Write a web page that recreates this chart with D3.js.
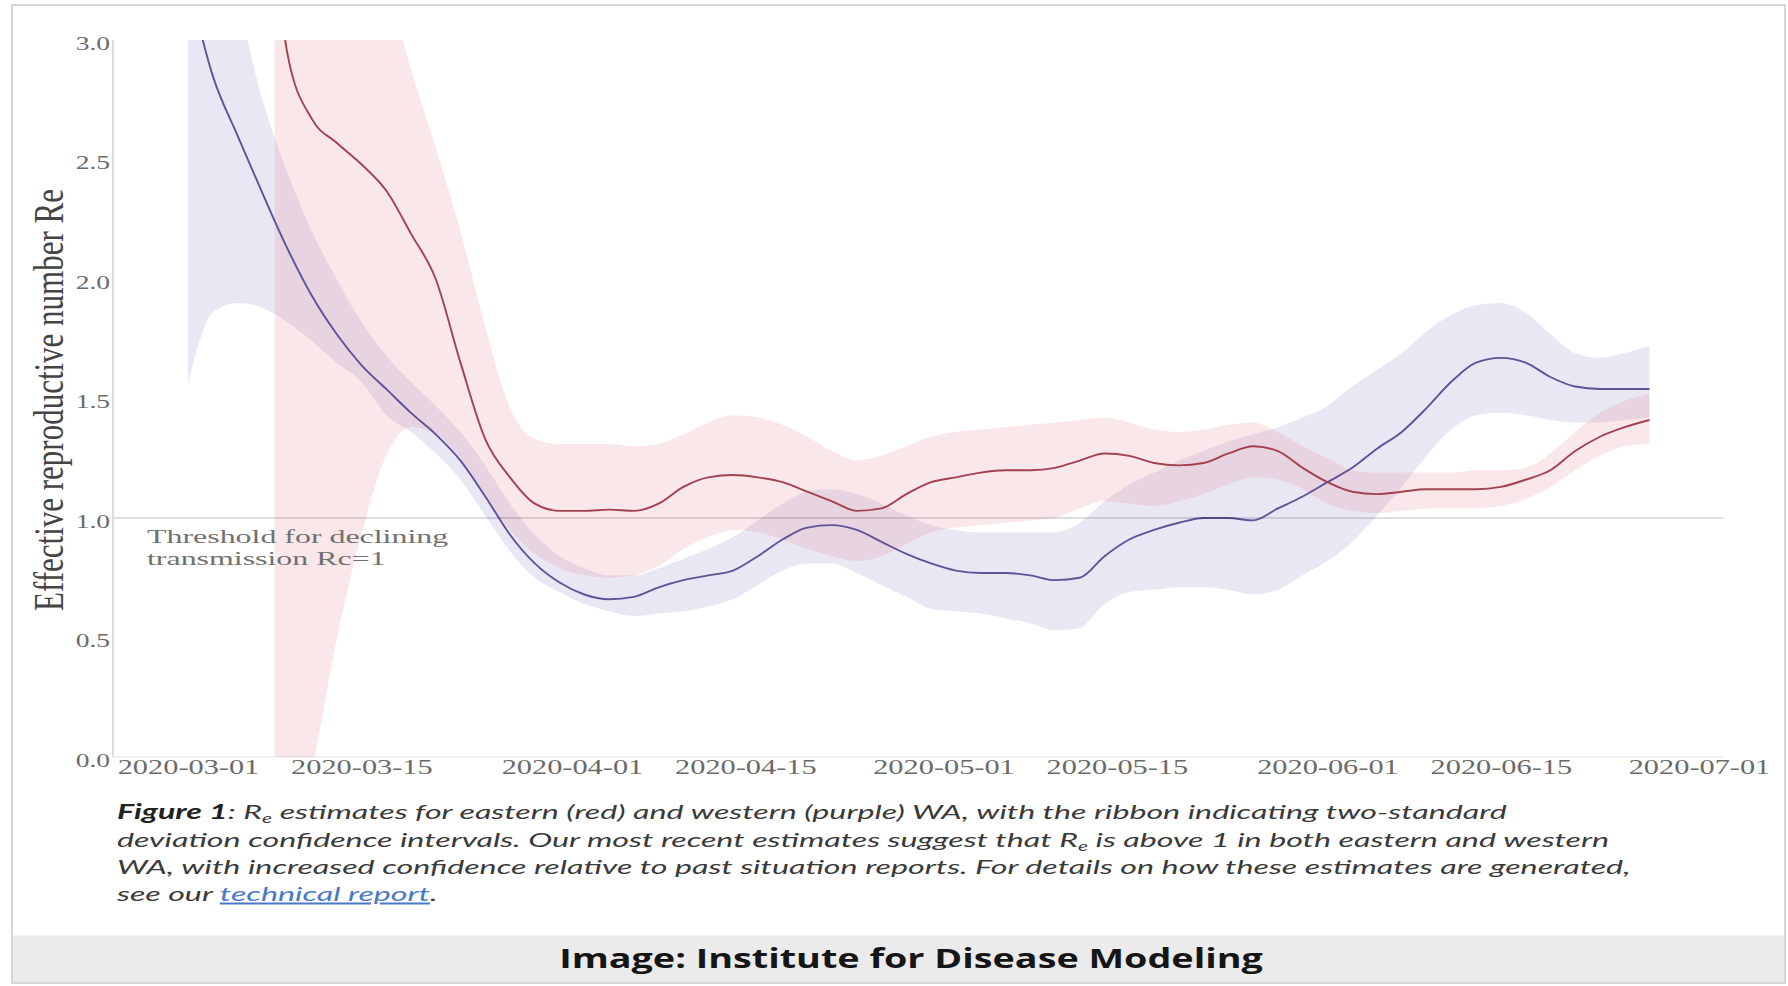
<!DOCTYPE html>
<html><head><meta charset="utf-8">
<script src="https://cdn.jsdelivr.net/npm/d3@7"></script>
<style>
html,body{margin:0;padding:0;background:#fff;}
svg{display:block;}
</style></head>
<body>
<svg id="chart" width="1788" height="986"></svg>
<script>
// ---------- data (days after 2020-03-01) ----------
const startDate = "2020-03-01";
const westDay = [0,2,4,6,8,10,12,14,16,18,20,22,24,26,28,30,32,34,36,38,40,42,44,46,48,50,52,54,56,58,60,62,64,66,68,70,72,74,76,78,80,82,84,86,88,90,92,94,96,98,100,102,104,106,108,110,112,114,116,118];
const westMid = [3.25,2.85,2.60,2.36,2.13,1.93,1.77,1.64,1.54,1.44,1.35,1.24,1.09,0.93,0.81,0.73,0.68,0.66,0.67,0.71,0.74,0.76,0.78,0.84,0.91,0.96,0.97,0.95,0.90,0.85,0.81,0.78,0.77,0.77,0.76,0.74,0.75,0.84,0.91,0.95,0.98,1.00,1.00,0.99,1.04,1.09,1.15,1.21,1.29,1.36,1.46,1.57,1.65,1.67,1.65,1.59,1.55,1.54,1.54,1.54];
const westLo  = [1.56,1.86,1.90,1.88,1.82,1.74,1.65,1.57,1.43,1.36,1.27,1.16,1.01,0.86,0.75,0.69,0.64,0.61,0.59,0.60,0.61,0.63,0.66,0.72,0.78,0.81,0.81,0.77,0.72,0.67,0.62,0.61,0.60,0.58,0.56,0.53,0.54,0.64,0.69,0.70,0.71,0.71,0.70,0.68,0.70,0.76,0.82,0.90,1.01,1.13,1.26,1.37,1.43,1.44,1.43,1.41,1.40,1.40,1.41,1.42];
const westHi  = [3.60,3.35,3.15,2.75,2.45,2.20,2.00,1.82,1.68,1.57,1.47,1.36,1.22,1.06,0.93,0.84,0.79,0.76,0.76,0.79,0.83,0.87,0.92,0.99,1.06,1.11,1.12,1.10,1.06,1.01,0.97,0.95,0.94,0.94,0.94,0.94,0.98,1.07,1.14,1.19,1.24,1.28,1.32,1.35,1.38,1.42,1.47,1.55,1.62,1.69,1.78,1.85,1.89,1.90,1.86,1.77,1.69,1.67,1.69,1.72];

const eastDay = [7,8,10,12,14,16,18,20,22,24,26,28,30,32,34,36,38,40,42,44,46,48,50,52,54,56,58,60,62,64,66,68,70,72,74,76,78,80,82,84,86,88,90,92,94,96,98,100,102,104,106,108,110,112,114,116,118];
const eastMid = [3.40,2.95,2.67,2.57,2.48,2.37,2.19,2.00,1.65,1.33,1.17,1.06,1.03,1.03,1.035,1.03,1.06,1.13,1.17,1.18,1.17,1.15,1.11,1.07,1.03,1.04,1.10,1.15,1.17,1.19,1.20,1.20,1.21,1.24,1.27,1.26,1.23,1.22,1.23,1.27,1.30,1.28,1.21,1.15,1.11,1.10,1.11,1.12,1.12,1.12,1.13,1.16,1.20,1.28,1.34,1.38,1.41];
const eastLo  = [-0.5,-0.4,-0.05,0.49,0.93,1.26,1.38,1.35,1.25,1.09,0.95,0.85,0.79,0.76,0.75,0.76,0.80,0.87,0.92,0.95,0.94,0.91,0.87,0.84,0.82,0.84,0.89,0.94,0.96,0.97,0.98,0.99,1.00,1.04,1.07,1.06,1.05,1.07,1.10,1.14,1.17,1.16,1.12,1.06,1.03,1.02,1.03,1.04,1.04,1.04,1.05,1.08,1.13,1.20,1.26,1.30,1.31];
const eastHi  = [4.5,4.5,4.3,4.0,3.6,3.25,2.88,2.55,2.20,1.80,1.46,1.33,1.31,1.31,1.31,1.30,1.31,1.35,1.40,1.43,1.42,1.39,1.34,1.28,1.24,1.26,1.30,1.34,1.36,1.37,1.38,1.39,1.40,1.41,1.42,1.40,1.37,1.36,1.37,1.39,1.40,1.36,1.30,1.25,1.20,1.19,1.19,1.19,1.19,1.20,1.20,1.21,1.27,1.36,1.44,1.49,1.52];

const xTickLabels = ["2020-03-01","2020-03-15","2020-04-01","2020-04-15","2020-05-01","2020-05-15","2020-06-01","2020-06-15","2020-07-01"];
const yTicks = [0, 0.5, 1.0, 1.5, 2.0, 2.5, 3.0];
const threshold = 1.0;
const xExtent = ["2020-02-24","2020-07-03"];

// ---------- setup ----------
const svg = d3.select("#chart");
const parse = d3.utcParse("%Y-%m-%d");
const t0 = parse(startDate);
const toDate = d => d3.utcDay.offset(t0, d);

const x = d3.scaleUtc().domain([parse("2020-03-01"), parse("2020-07-01")]).range([188, 1699]);
const y = d3.scaleLinear().domain([0, 3]).range([757, 40]);
const xL = x(parse(xExtent[0])), xR = x(parse(xExtent[1]));

// frame
svg.append("rect").attr("x",12).attr("y",5).attr("width",1773).attr("height",978)
  .attr("fill","#fff").attr("stroke","#d6d6d6").attr("stroke-width",2);
svg.append("rect").attr("x",13).attr("y",936).attr("width",1771).attr("height",46).attr("fill","#ebebeb");
svg.append("line").attr("x1",13).attr("x2",1784).attr("y1",936).attr("y2",936).attr("stroke","#e2e2e2");

svg.append("defs").append("clipPath").attr("id","plotclip").append("rect")
  .attr("x", xL).attr("y", y(3)).attr("width", xR - xL).attr("height", y(0) - y(3));

const west = westDay.map((d,i)=>({date:toDate(d), mid:westMid[i], lo:westLo[i], hi:westHi[i]}));
const east = eastDay.map((d,i)=>({date:toDate(d), mid:eastMid[i], lo:eastLo[i], hi:eastHi[i]}));

const area = d3.area().x(d=>x(d.date)).y0(d=>y(d.lo)).y1(d=>y(d.hi)).curve(d3.curveMonotoneX);
const line = d3.line().x(d=>x(d.date)).y(d=>y(d.mid)).curve(d3.curveMonotoneX);

// axes lines
svg.append("line").attr("x1",113).attr("x2",113).attr("y1",y(3)).attr("y2",y(0))
  .attr("stroke","#dcdcdc").attr("stroke-width",2);
svg.append("line").attr("x1",xL).attr("x2",xR).attr("y1",y(0)).attr("y2",y(0))
  .attr("stroke","#ececec").attr("stroke-width",1.5);

const plot = svg.append("g").attr("clip-path","url(#plotclip)");
plot.append("path").datum(west).attr("d", area).attr("fill","rgb(140,120,200)").attr("fill-opacity",0.18);
plot.append("path").datum(east).attr("d", area).attr("fill","rgb(230,120,135)").attr("fill-opacity",0.18);

// threshold line
svg.append("line").attr("x1",xL).attr("x2",xR).attr("y1",y(threshold)).attr("y2",y(threshold))
  .attr("stroke","rgba(0,0,0,0.13)").attr("stroke-width",2);

plot.append("path").datum(west).attr("d", line).attr("fill","none").attr("stroke","#5e5398").attr("stroke-width",1.9);
plot.append("path").datum(east).attr("d", line).attr("fill","none").attr("stroke","#a2424f").attr("stroke-width",1.9);

// x axis
const gx = svg.append("g").attr("transform",`translate(0,${y(0)})`)
  .call(d3.axisBottom(x).tickValues(xTickLabels.map(parse)).tickFormat(d3.utcFormat("%Y-%m-%d")).tickSize(0));
gx.select(".domain").remove();
gx.selectAll("text").attr("y",17).attr("dy",0)
  .attr("font-family","'Liberation Serif', 'DejaVu Serif', serif").attr("font-size",22).attr("fill","#6a6a6a")
  .attr("transform","scale(1.38,1)");

// y axis
const gy = svg.append("g").attr("transform","translate(113,0)")
  .call(d3.axisLeft(y).tickValues(yTicks).tickFormat(d3.format(".1f")).tickSize(0).tickPadding(2));
gy.select(".domain").remove();
gy.selectAll("text").attr("dy","0.48em")
  .attr("font-family","'Liberation Serif', 'DejaVu Serif', serif").attr("font-size",19).attr("fill","#6a6a6a")
  .attr("transform","scale(1.45,1)");

// y title
svg.append("text").attr("transform","translate(48,400) scale(1.38,1) rotate(-90)")
  .attr("text-anchor","middle").attr("dy","0.35em")
  .attr("font-family","'Liberation Serif', serif").attr("font-size",31).attr("fill","#444")
  .text("Effective reproductive number Re");

// threshold annotation
const annFont = "'Liberation Serif', serif";
svg.append("text").attr("transform","translate(147,543) scale(1.68,1)")
  .attr("font-family",annFont).attr("font-size",19).attr("fill","#707070")
  .text("Threshold for declining");
svg.append("text").attr("transform","translate(147,565) scale(1.68,1)")
  .attr("font-family",annFont).attr("font-size",19).attr("fill","#707070")
  .text("transmission Rc=1");

// caption
const cap = svg.append("g").attr("font-family","Lato, 'Open Sans', sans-serif").attr("font-size",20)
  .attr("font-style","italic").attr("fill","#3a3a3a");
const baselines = [819, 847, 874, 901];
const l1 = cap.append("text").attr("x",0).attr("y",0);
l1.append("tspan").attr("font-weight",700).attr("fill","#222").text("Figure 1");
l1.append("tspan").text(":  R");
l1.append("tspan").attr("font-size",13).attr("dy",4).text("e");
l1.append("tspan").attr("dy",-4).text(" estimates for eastern (red) and western (purple) WA, with the ribbon indicating two-standard");
const l2 = cap.append("text").attr("x",0).attr("y",0);
l2.append("tspan").text("deviation confidence intervals. Our most recent estimates suggest that  R");
l2.append("tspan").attr("font-size",13).attr("dy",4).text("e");
l2.append("tspan").attr("dy",-4).text(" is above 1 in both eastern and western");
const l3 = cap.append("text").attr("x",0).attr("y",0)
  .text("WA, with increased confidence relative to past situation reports. For details on how these estimates are generated,");
const l4 = cap.append("text").attr("x",0).attr("y",0);
l4.append("tspan").text("see our ");
l4.append("tspan").attr("fill","#4a78c8").attr("text-decoration","underline").text("technical report");
l4.append("tspan").text(".");
const k = 1514 / l3.node().getComputedTextLength();
[l1,l2,l3,l4].forEach((t,i)=>t.attr("transform",`translate(117,${baselines[i]}) scale(${k},1)`));

// footer
const foot = svg.append("text").attr("text-anchor","middle")
  .attr("font-family","'Open Sans', 'Noto Sans', sans-serif").attr("font-weight",700).attr("font-size",27)
  .attr("fill","#151515").text("Image: Institute for Disease Modeling");
const kf = 704 / foot.node().getComputedTextLength();
foot.attr("transform",`translate(911,968) scale(${kf},1)`);
</script>
</body></html>
